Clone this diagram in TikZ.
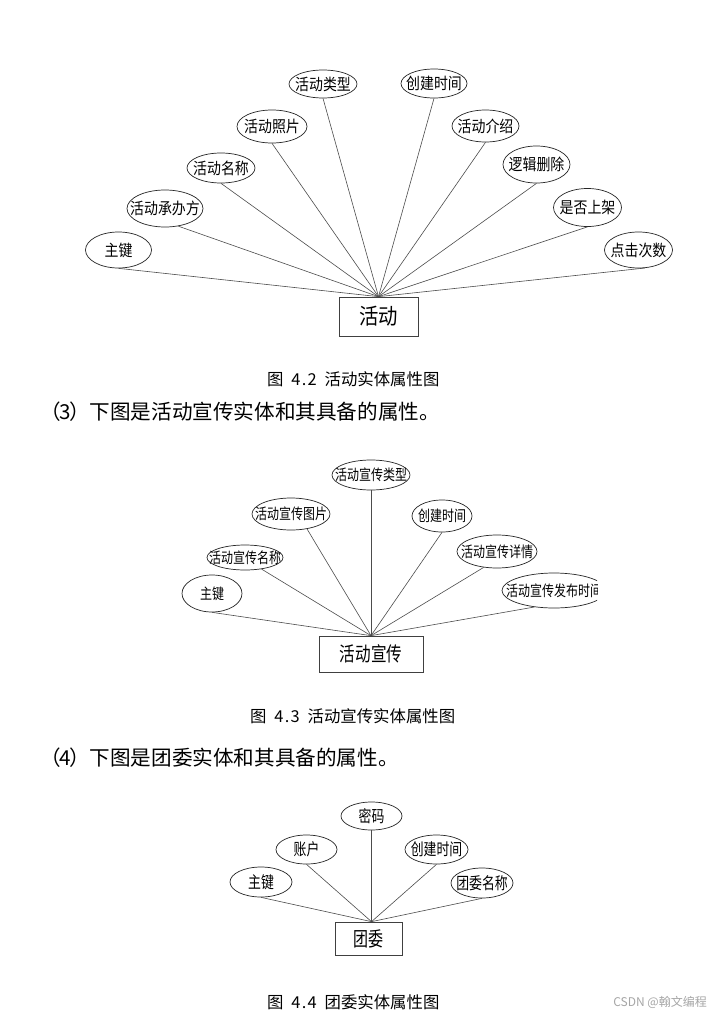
\documentclass[tikz,border=0pt]{standalone}
\usepackage{fontspec}
\usepackage{graphicx}
\newfontfamily\cjk{Noto Sans CJK SC}
\usetikzlibrary{shapes.geometric}
\newcommand\ctxt[2]{\makebox[0pt]{\scalebox{#1}[1]{#2}}}
\newcommand\hw[1]{\makebox[8.2pt]{#1}}
\begin{document}
\begin{tikzpicture}[x=1pt,y=-1pt,
  attr/.style={ellipse, draw=black!85, line width=0.7pt, inner sep=0pt},
  attrA/.style={attr, font=\cjk\fontsize{16}{18}\selectfont},
  attrB/.style={attr, font=\cjk\fontsize{15}{17}\selectfont},
  attrC/.style={attr, font=\cjk\fontsize{16.5}{18}\selectfont},
  ent/.style={rectangle, draw=black!75, line width=0.7pt, inner sep=0pt},
  conn/.style={draw=black!70, line width=0.6pt},
  captxt/.style={inner sep=0pt, anchor=west, font=\cjk\fontsize{16.4}{18}\selectfont},
  paratxt/.style={inner sep=0pt, anchor=west, font=\cjk\fontsize{20.6}{23}\selectfont}]
\useasboundingbox[fill=white] (0,0) rectangle (719,1017);

% ---------- Diagram 1 ----------
\node[ent, minimum width=79, minimum height=39, font=\cjk\fontsize{22}{24}\selectfont] (E1) at (378.5,316.5) {\ctxt{0.88}{活动}};
\node[attrA, minimum width=66, minimum height=36] (a1) at (118.5,250) {\ctxt{0.87}{主键}};
\node[attrA, minimum width=76, minimum height=37] (a2) at (165,208.5) {\ctxt{0.87}{活动承办方}};
\node[attrA, minimum width=68, minimum height=30] (a3) at (221,168) {\ctxt{0.87}{活动名称}};
\node[attrA, minimum width=70, minimum height=33] (a4) at (272,126.5) {\ctxt{0.87}{活动照片}};
\node[attrA, minimum width=68, minimum height=28] (a5) at (323,84) {\ctxt{0.87}{活动类型}};
\node[attrA, minimum width=66, minimum height=29] (a6) at (434,83.5) {\ctxt{0.87}{创建时间}};
\node[attrA, minimum width=67, minimum height=32] (a7) at (485.5,126) {\ctxt{0.87}{活动介绍}};
\node[attrA, minimum width=67, minimum height=37] (a8) at (536.5,164.5) {\ctxt{0.87}{逻辑删除}};
\node[attrA, minimum width=68, minimum height=38] (a9) at (587.5,207.5) {\ctxt{0.87}{是否上架}};
\node[attrA, minimum width=68, minimum height=36] (a10) at (638.5,250) {\ctxt{0.87}{点击次数}};
\draw[conn] (a1.south) -- (E1.north);
\draw[conn] (a2.-53) -- (E1.north);
\draw[conn] (a3.south) -- (E1.north);
\draw[conn] (a4.south) -- (E1.north);
\draw[conn] (a5.south) -- (E1.north);
\draw[conn] (a6.south) -- (E1.north);
\draw[conn] (a7.south) -- (E1.north);
\draw[conn] (a8.south) -- (E1.north);
\draw[conn] (a9.south) -- (E1.north);
\draw[conn] (a10.-70) -- (E1.north);

\node[captxt] (c1) at (267,379.5) {图\hw{ }\hw{4}\hw{.}\hw{2}\hw{ }活动实体属性图};
\node[paratxt] (p1) at (40,412) {（\hw{3}）下图是活动宣传实体和其具备的属性。};

% ---------- Diagram 2 ----------
\node[ent, minimum width=104, minimum height=36, font=\cjk\fontsize{20}{22}\selectfont] (E2) at (371,654) {\ctxt{0.78}{活动宣传}};
\node[attrB, minimum width=60, minimum height=37] (b1) at (212,593.5) {\ctxt{0.8}{主键}};
\node[attrB, minimum width=76, minimum height=25] (b2) at (245,557.5) {\ctxt{0.8}{活动宣传名称}};
\node[attrB, minimum width=78, minimum height=32] (b3) at (291,514) {\ctxt{0.8}{活动宣传图片}};
\node[attrB, minimum width=78, minimum height=30] (b4) at (371,475) {\ctxt{0.8}{活动宣传类型}};
\node[attrB, minimum width=60, minimum height=32] (b5) at (442,516) {\ctxt{0.8}{创建时间}};
\node[attrB, minimum width=80, minimum height=33] (b6) at (497,551.5) {\ctxt{0.8}{活动宣传详情}};
\begin{scope}
\clip (0,0) rectangle (597,1017);
\node[attrB, minimum width=104, minimum height=35] (b7) at (554,590.5) {\ctxt{0.8}{活动宣传发布时间}};
\end{scope}
\draw[conn] (b1.south) -- (E2.north);
\draw[conn] (b2.-35) -- (E2.north);
\draw[conn] (b3.-43) -- (E2.north);
\draw[conn] (b4.south) -- (E2.north);
\draw[conn] (b5.south) -- (E2.north);
\draw[conn] (b6.-130) -- (E2.north);
\draw[conn] (b7.-140) -- (E2.north);

\node[captxt] (c2) at (250,716.5) {图\hw{ }\hw{4}\hw{.}\hw{3}\hw{ }活动宣传实体属性图};
\node[paratxt] (p2) at (40,757.5) {（\hw{4}）下图是团委实体和其具备的属性。};

% ---------- Diagram 3 ----------
\node[ent, minimum width=67, minimum height=33, font=\cjk\fontsize{20}{22}\selectfont] (E3) at (368.5,938.5) {\ctxt{0.75}{团委}};
\node[attrC, minimum width=62, minimum height=30] (d1) at (261,882) {\ctxt{0.78}{主键}};
\node[attrC, minimum width=61, minimum height=29] (d2) at (306.5,849.5) {\ctxt{0.78}{账户}};
\node[attrC, minimum width=61, minimum height=28] (d3) at (371.5,816) {\ctxt{0.78}{密码}};
\node[attrC, minimum width=63, minimum height=29] (d4) at (436.5,849.5) {\ctxt{0.78}{创建时间}};
\node[attrC, minimum width=62, minimum height=30] (d5) at (482,883) {\ctxt{0.78}{团委名称}};
\draw[conn] (d1.south) -- ([xshift=3pt]E3.north);
\draw[conn] (d2.south) -- ([xshift=3pt]E3.north);
\draw[conn] (d3.south) -- ([xshift=3pt]E3.north);
\draw[conn] (d4.south) -- ([xshift=3pt]E3.north);
\draw[conn] (d5.south) -- ([xshift=3pt]E3.north);

\node[captxt] (c3) at (267,1002) {图\hw{ }\hw{4}\hw{.}\hw{4}\hw{ }团委实体属性图};
\node[inner sep=0pt, anchor=east, text=black!35, font=\cjk\fontsize{12}{14}\selectfont] (wm) at (707,1002) {CSDN @翰文编程};
\end{tikzpicture}
\end{document}
